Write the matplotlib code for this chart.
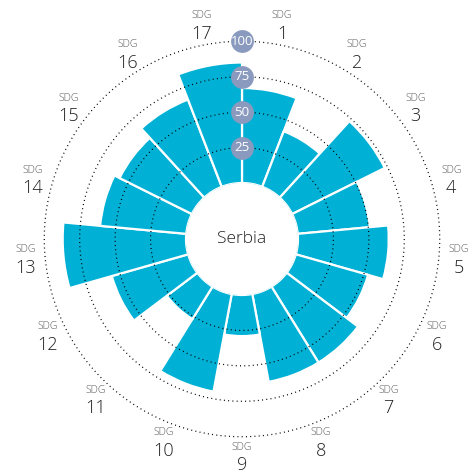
import numpy as np
import matplotlib
matplotlib.use("Agg")
from matplotlib import pyplot as plt

plt.rcParams['font.family'] = ['Open Sans', 'DejaVu Sans']

# SDG index scores for Serbia (0-100)
goals = [str(i) for i in range(1, 18)]
scores = [67, 42, 73, 51, 64, 53, 63, 63, 29, 70, 27, 56, 87, 61, 57, 66, 85]
rings = [25, 50, 75, 100]
country = "Serbia"

bar_color = '#00b1d5'
ring_badge = '#8a9abf'

fig = plt.figure(figsize=(4.74, 4.72), dpi=100)
ax = fig.add_axes([23 / 474, 14 / 472, 438 / 474, 438 / 472], projection='polar')
ax.set_theta_zero_location('N')
ax.set_theta_direction(-1)
ax.set_rorigin(-39.5)
ax.set_ylim(0, 115)
ax.set_axis_off()

n = len(goals)
width = 2 * np.pi / n
theta = (np.arange(n) + 0.5) * width

ax.bar(theta, scores, width=width, bottom=0, color=bar_color,
       edgecolor='white', linewidth=1.6, zorder=2)

# dotted reference rings on top of the bars
circ = np.linspace(0, 2 * np.pi, 400)
for r in rings:
    ax.plot(circ, np.full_like(circ, r), color='black', lw=0.9,
            ls=(0, (0.8, 2.6)), zorder=3)

# ring value badges at the top
ax.scatter(np.zeros(len(rings)), rings, s=270, color=ring_badge,
           zorder=5, clip_on=False, linewidths=0)
for r in rings:
    ax.text(0, r, str(r), color='white', fontsize=9.5, ha='center',
            va='center', zorder=6)

# goal labels round the outside
for t, g in zip(theta, goals):
    ax.annotate('SDG', (t, 114), xytext=(0, 6.8), textcoords='offset points',
                ha='center', va='center', fontsize=7.5, color='#5a5a5a',
                fontweight='light', annotation_clip=False)
    ax.annotate(g, (t, 114), xytext=(0, -6.2), textcoords='offset points',
                ha='center', va='center', fontsize=13, color='#222222',
                fontweight='light', annotation_clip=False)

ax.text(0.5, 0.5, country, transform=ax.transAxes, ha='center', va='center',
        fontsize=12.5, color='#222222', fontweight='light')

fig.savefig('out.png', dpi=100)
